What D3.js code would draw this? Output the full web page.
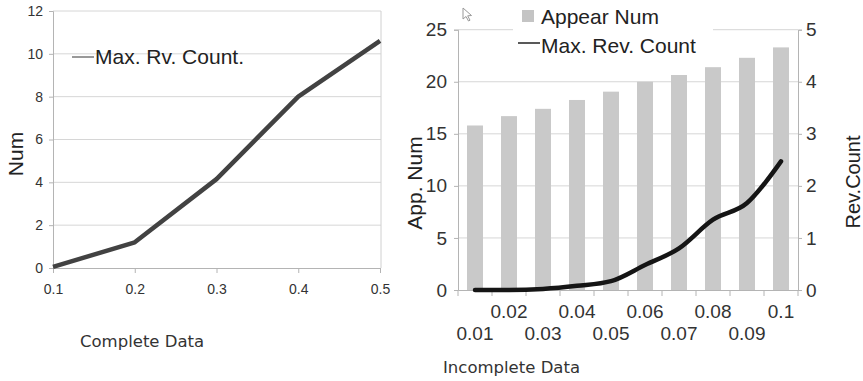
<!DOCTYPE html>
<html>
<head>
<meta charset="utf-8">
<script src="https://cdn.jsdelivr.net/npm/d3@7"></script>
<style>
  body { margin: 0; background: #fff; }
  svg { display: block; }
  .axis path, .axis line { stroke: #b4b4b4; }
</style>
</head>
<body>
<div id="chart"></div>
<script>
// left chart - complete data
var completeX = [0.1, 0.2, 0.3, 0.4, 0.5];
var completeRv = [0.05, 1.2, 4.15, 8.0, 10.6];
var leftYTicks = [0, 2, 4, 6, 8, 10, 12];

// right chart - incomplete data
var incompleteX = ["0.01", "0.02", "0.03", "0.04", "0.05", "0.06", "0.07", "0.08", "0.09", "0.1"];
var appearNum = [15.8, 16.7, 17.4, 18.25, 19.05, 20.0, 20.65, 21.4, 22.3, 23.3];
var revCount = [0, 0, 0.02, 0.08, 0.17, 0.48, 0.8, 1.35, 1.67, 2.47];
var appTicks = [0, 5, 10, 15, 20, 25];
var revTicks = [0, 1, 2, 3, 4, 5];

var svg = d3.select("#chart").append("svg")
    .attr("width", 863)
    .attr("height", 381);

var sans = "'Liberation Sans', Arial, sans-serif";
var tah = "'DejaVu Sans', Verdana, sans-serif";

// ---------- left chart ----------
var x1 = d3.scaleLinear().domain([0.1, 0.5]).range([53, 380]);
var y1 = d3.scaleLinear().domain([0, 12]).range([268, 11]);

// gridlines
svg.append("g").selectAll("line")
    .data(leftYTicks.slice(1))
    .enter().append("line")
    .attr("x1", x1.range()[0]).attr("x2", x1.range()[1] + 1)
    .attr("y1", function(d) { return y1(d); })
    .attr("y2", function(d) { return y1(d); })
    .style("stroke", "#d6d6d6");

// right border of plot
svg.append("line")
    .attr("x1", x1.range()[1] + 1).attr("x2", x1.range()[1] + 1)
    .attr("y1", y1(12)).attr("y2", y1(0))
    .style("stroke", "#d0d0d0");

var lx = svg.append("g").attr("class", "axis")
    .attr("transform", "translate(0," + y1(0) + ")")
    .call(d3.axisBottom(x1).tickValues(completeX).tickFormat(d3.format(".1f"))
        .tickSizeOuter(0).tickSize(5).tickPadding(11));
lx.selectAll("text").style("font", "14px " + sans).style("fill", "#333");

var ly = svg.append("g").attr("class", "axis")
    .attr("transform", "translate(" + x1.range()[0] + ",0)")
    .call(d3.axisLeft(y1).tickValues(leftYTicks).tickSizeOuter(0).tickSize(4).tickPadding(6));
ly.selectAll("text").style("font", "14px " + sans).style("fill", "#333");

// the line
svg.append("path")
    .datum(completeX.map(function(d, i) { return [d, completeRv[i]]; }))
    .attr("d", d3.line()
        .x(function(d) { return x1(d[0]); })
        .y(function(d) { return y1(d[1]); }))
    .style("fill", "none")
    .style("stroke", "#424242")
    .style("stroke-width", 4.5)
    .style("stroke-linejoin", "round");

// legend
svg.append("line")
    .attr("x1", 72).attr("x2", 94).attr("y1", 57).attr("y2", 57)
    .style("stroke", "#555").style("stroke-width", 1.2);
svg.append("text")
    .attr("x", 95).attr("y", 64)
    .style("font", "21px " + sans).style("fill", "#222")
    .text("Max. Rv. Count.");

// axis titles
svg.append("text")
    .attr("transform", "translate(23,154) rotate(-90)")
    .attr("text-anchor", "middle")
    .style("font", "21px " + sans).style("fill", "#222")
    .text("Num");
svg.append("text")
    .attr("x", 80).attr("y", 347)
    .style("font", "16.5px " + tah).style("fill", "#333")
    .text("Complete Data");

// ---------- right chart ----------
var x2 = d3.scaleBand().domain(incompleteX).range([458, 798])
    .paddingInner(0.53).paddingOuter(0.265);
var y2 = d3.scaleLinear().domain([0, 25]).range([290, 29.7]);
var y3 = d3.scaleLinear().domain([0, 5]).range([290, 29.7]);

svg.append("g").selectAll("line")
    .data(appTicks.slice(1))
    .enter().append("line")
    .attr("x1", x2.range()[0]).attr("x2", x2.range()[1])
    .attr("y1", function(d) { return y2(d); })
    .attr("y2", function(d) { return y2(d); })
    .style("stroke", "#d6d6d6");

// bars
svg.append("g").selectAll("rect")
    .data(appearNum)
    .enter().append("rect")
    .attr("x", function(d, i) { return x2(incompleteX[i]); })
    .attr("width", x2.bandwidth())
    .attr("y", function(d) { return y2(d); })
    .attr("height", function(d) { return y2(0) - y2(d); })
    .style("fill", "#c9c9c9");

// x axis with ticks at band edges, labels staggered
var rx = svg.append("g").attr("class", "axis")
    .attr("transform", "translate(0," + y2(0) + ")")
    .call(d3.axisBottom(x2).tickSize(0).tickSizeOuter(0));
rx.selectAll("text")
    .style("font", "19px " + sans).style("fill", "#333")
    .attr("dy", 0)
    .attr("y", function(d, i) { return i % 2 === 0 ? 50 : 28; });
rx.selectAll(".edge")
    .data(d3.range(incompleteX.length + 1))
    .enter().append("line")
    .attr("class", "edge")
    .attr("x1", function(i) { return x2.range()[0] + i * x2.step(); })
    .attr("x2", function(i) { return x2.range()[0] + i * x2.step(); })
    .attr("y1", 0).attr("y2", 6)
    .style("stroke", "#b4b4b4");

var ry = svg.append("g").attr("class", "axis")
    .attr("transform", "translate(" + x2.range()[0] + ",0)")
    .call(d3.axisLeft(y2).tickValues(appTicks).tickSizeOuter(0).tickSize(4).tickPadding(7));
ry.selectAll("text").style("font", "19px " + sans).style("fill", "#333");

var ry2 = svg.append("g").attr("class", "axis")
    .attr("transform", "translate(" + x2.range()[1] + ",0)")
    .call(d3.axisRight(y3).tickValues(revTicks).tickFormat(d3.format("d"))
        .tickSizeOuter(0).tickSize(4).tickPadding(4));
ry2.selectAll("text").style("font", "19px " + sans).style("fill", "#333");

// rev count line
svg.append("path")
    .datum(revCount)
    .attr("d", d3.line()
        .x(function(d, i) { return x2(incompleteX[i]) + x2.bandwidth() / 2; })
        .y(function(d) { return y3(d); })
        .curve(d3.curveMonotoneX))
    .style("fill", "none")
    .style("stroke", "#151515")
    .style("stroke-width", 4.5)
    .style("stroke-linecap", "round");

// legend (white box hides top gridline)
svg.append("rect")
    .attr("x", 513).attr("y", 0).attr("width", 200).attr("height", 60)
    .style("fill", "#fff");
svg.append("rect")
    .attr("x", 522).attr("y", 10).attr("width", 12).attr("height", 12)
    .style("fill", "#c4c4c4");
svg.append("text")
    .attr("x", 541).attr("y", 23.5)
    .style("font", "21px " + sans).style("fill", "#222")
    .text("Appear Num");
svg.append("line")
    .attr("x1", 518).attr("x2", 540).attr("y1", 43).attr("y2", 43)
    .style("stroke", "#222").style("stroke-width", 1.5);
svg.append("text")
    .attr("x", 541).attr("y", 53)
    .style("font", "21px " + sans).style("fill", "#222")
    .text("Max. Rev. Count");

// mouse cursor artifact
svg.append("path")
    .attr("d", "M463,8 L463,19 L466,16.5 L468.5,21 L470,20.2 L467.7,15.8 L471.5,15.5 Z")
    .style("fill", "#fff").style("stroke", "#999").style("stroke-width", 1);

// axis titles
svg.append("text")
    .attr("transform", "translate(422,183) rotate(-90)")
    .attr("text-anchor", "middle")
    .style("font", "21px " + sans).style("fill", "#222")
    .text("App. Num");
svg.append("text")
    .attr("transform", "translate(860,182) rotate(-90)")
    .attr("text-anchor", "middle")
    .style("font", "20px " + sans).style("fill", "#222")
    .text("Rev.Count");
svg.append("text")
    .attr("x", 443).attr("y", 373)
    .style("font", "16.5px " + tah).style("fill", "#333")
    .text("Incomplete Data");
</script>
</body>
</html>
